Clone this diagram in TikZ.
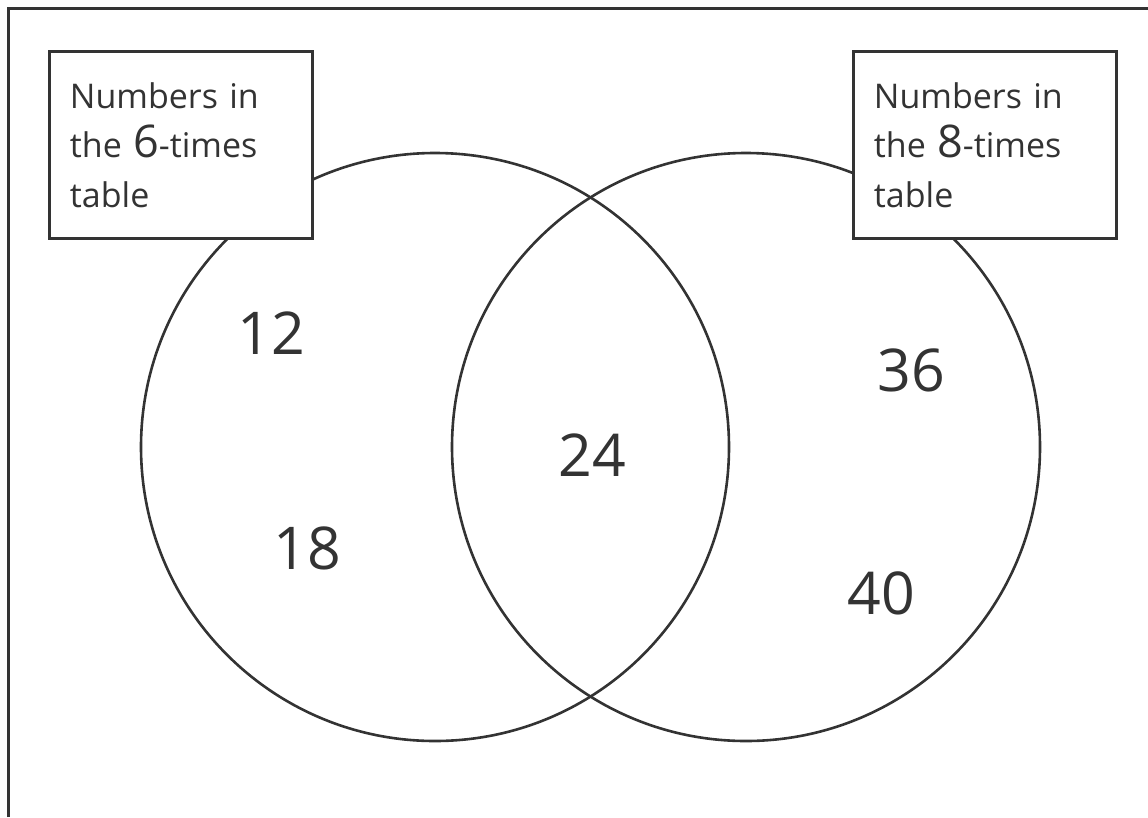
\documentclass[tikz,border=0pt]{standalone}
\usepackage{fontspec}
\setmainfont{Open Sans}
\usetikzlibrary{positioning}
\definecolor{ink}{HTML}{333333}
\tikzset{setring/.style={draw=ink,line width=2.6pt,circle,minimum size=588pt,inner sep=0pt},
  labelbox/.style={draw=ink,line width=2.8pt,fill=white,anchor=north west,minimum width=263pt,minimum height=187pt,
    text width=222pt,align=left,inner sep=0pt,text=ink,font=\fontsize{34}{49.5}\selectfont},
  entry/.style={text=ink,font=\fontsize{59}{64}\selectfont}}
\newcommand{\bigdigit}[1]{{\fontsize{45}{49.5}\selectfont #1}}
\begin{document}
\begin{tikzpicture}[x=1pt,y=1pt]
\useasboundingbox (0,0) rectangle (1148,-817);
\draw[ink,line width=3pt] (8,-817) -- (8,-8) -- (1148,-8);
% the two sets
\node[setring] (six set) at (435,-447) {};
\node[setring] (eight set) at (746,-447) {};
% set labels
\node[labelbox] (six label) at (48,-50) {Numbers in\\the \bigdigit{6}-times\\table};
\node[labelbox] (eight label) at (852,-50) {Numbers in\\the \bigdigit{8}-times\\table};
% members
\node[entry] (n12) at (271,-333) {12};
\node[entry] (n18) at (307,-548) {18};
\node[entry] (n24) at (592,-455) {24};
\node[entry] (n36) at (911,-370) {36};
\node[entry] (n40) at (881,-593) {40};
\end{tikzpicture}
\end{document}
